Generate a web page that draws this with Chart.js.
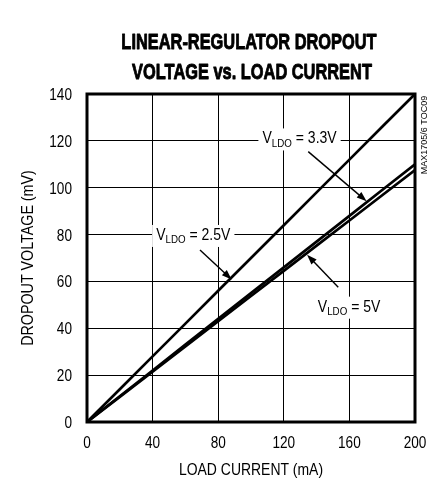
<!DOCTYPE html>
<html>
<head>
<meta charset="utf-8">
<script src="https://cdn.jsdelivr.net/npm/chart.js@4.4.1/dist/chart.umd.min.js"></script>
<style>
  html, body { margin: 0; padding: 0; background: #fff; }
  canvas { display: block; }
</style>
</head>
<body>
<canvas id="grafico" width="440" height="481"></canvas>
<script>
// --- 1. DATOS ---
const corrientes = [0, 20, 40, 60, 80, 100, 120, 140, 160, 180, 200];            // mA
const caida25 = [0, 14, 28, 42, 56, 70, 84, 98, 112, 126, 140];                   // mV, VLDO = 2.5V
const caida33 = [0, 11, 22, 33, 44, 55, 66, 77, 88, 99, 110];                     // mV, VLDO = 3.3V
const caida5  = [0, 10.7, 21.5, 32.3, 43, 53.8, 64.5, 75.3, 86, 96.8, 107.5];     // mV, VLDO = 5V
const ticksX = [0, 40, 80, 120, 160, 200];
const ticksY = [0, 20, 40, 60, 80, 100, 120, 140];
const titulo = ['LINEAR-REGULATOR DROPOUT', 'VOLTAGE vs. LOAD CURRENT'];
const tituloX = 'LOAD CURRENT (mA)';
const tituloY = 'DROPOUT VOLTAGE (mV)';

// no hay Helvetica Condensed: se usa Liberation Sans comprimida en horizontal
const familia = '"Liberation Sans", Arial, sans-serif';
const negro = '#000';

// etiquetas VLDO (posiciones en unidades del gráfico: mA / mV)
const etiquetas = [
    { valor: '3.3V', x: 129.6, y: 118.9, flecha: [134.9, 115.4, 170.5, 94.2] },
    { valor: '2.5V', x: 64.8,  y: 77.7,  flecha: [68.9, 73.4, 88.2, 60.8] },
    { valor: '5V',   x: 159.8, y: 47.1,  flecha: [153.2, 57.5, 134.2, 71.4] }
];

// --- 2. DIBUJO AUXILIAR ---

function textoComprimido(ctx, texto, x, y, fuente, alinear, factor, giro = 0, grosor = 0) {
    ctx.save();
    ctx.translate(x, y);
    if (giro) ctx.rotate(giro);
    ctx.scale(factor, 1);
    ctx.font = fuente;
    ctx.fillStyle = negro;
    ctx.textAlign = alinear;
    ctx.textBaseline = 'alphabetic';
    ctx.fillText(texto, 0, 0);
    if (grosor) {
        ctx.strokeStyle = negro;
        ctx.lineWidth = grosor;
        ctx.lineJoin = 'round';
        ctx.strokeText(texto, 0, 0);
    }
    ctx.restore();
}

function dibujarFlecha(ctx, x1, y1, x2, y2) {
    const ang = Math.atan2(y2 - y1, x2 - x1);
    const largo = 10, ancho = 3.6;
    ctx.strokeStyle = negro;
    ctx.lineWidth = 1.4;
    ctx.beginPath();
    ctx.moveTo(x1, y1);
    ctx.lineTo(x2 - Math.cos(ang) * largo * 0.8, y2 - Math.sin(ang) * largo * 0.8);
    ctx.stroke();
    ctx.fillStyle = negro;
    ctx.beginPath();
    ctx.moveTo(x2, y2);
    ctx.lineTo(x2 - Math.cos(ang) * largo - Math.sin(ang) * ancho, y2 - Math.sin(ang) * largo + Math.cos(ang) * ancho);
    ctx.lineTo(x2 - Math.cos(ang) * largo + Math.sin(ang) * ancho, y2 - Math.sin(ang) * largo - Math.cos(ang) * ancho);
    ctx.closePath();
    ctx.fill();
}

function dibujarEtiqueta(ctx, cx, base, valor) {
    const k = 0.85;
    const fuenteG = `16.5px ${familia}`;
    const fuenteS = `11.5px ${familia}`;
    const resto = ' = ' + valor;
    ctx.font = fuenteG;
    const wV = ctx.measureText('V').width * k;
    const wR = ctx.measureText(resto).width * k;
    ctx.font = fuenteS;
    const wS = ctx.measureText('LDO').width * k;
    const total = wV + wS + wR;
    let x = cx - total / 2;

    ctx.fillStyle = '#fff';
    ctx.fillRect(x - 4, base - 15, total + 8, 22);

    textoComprimido(ctx, 'V', x, base, fuenteG, 'left', k);
    x += wV;
    textoComprimido(ctx, 'LDO', x, base + 3.5, fuenteS, 'left', k);
    x += wS;
    textoComprimido(ctx, resto, x, base, fuenteG, 'left', k);
}

const pluginAnotaciones = {
    id: 'anotaciones',
    afterDatasetsDraw(chart) {
        const { ctx, scales: { x, y } } = chart;
        ctx.save();
        etiquetas.forEach(et => {
            dibujarEtiqueta(ctx, x.getPixelForValue(et.x), y.getPixelForValue(et.y), et.valor);
            const [a, b, c, d] = et.flecha;
            dibujarFlecha(ctx, x.getPixelForValue(a), y.getPixelForValue(b), x.getPixelForValue(c), y.getPixelForValue(d));
        });
        ctx.restore();
    },
    afterDraw(chart) {
        const { ctx, chartArea: ca, scales: { x, y } } = chart;
        ctx.save();
        // marco grueso
        ctx.strokeStyle = negro;
        ctx.lineWidth = 3;
        ctx.strokeRect(ca.left, ca.top, ca.right - ca.left, ca.bottom - ca.top);

        // valores de los ejes
        const fuenteTicks = `17px ${familia}`;
        ticksX.forEach(v => textoComprimido(ctx, String(v), x.getPixelForValue(v), 447.5, fuenteTicks, 'center', 0.8));
        ticksY.forEach(v => textoComprimido(ctx, String(v), ca.left - 15, y.getPixelForValue(v) + 6, fuenteTicks, 'right', 0.8));

        // títulos de ejes
        const fuenteEjes = `17px ${familia}`;
        textoComprimido(ctx, tituloX, (ca.left + ca.right) / 2, 475, fuenteEjes, 'center', 0.82);
        textoComprimido(ctx, tituloY, 33, (ca.top + ca.bottom) / 2, fuenteEjes, 'center', 0.84, -Math.PI / 2);

        // título (más grueso, tipo condensada negra)
        const fuenteTitulo = `bold 22px ${familia}`;
        textoComprimido(ctx, titulo[0], 249, 49, fuenteTitulo, 'center', 0.745, 0, 0.9);
        textoComprimido(ctx, titulo[1], 252, 79, fuenteTitulo, 'center', 0.745, 0, 0.9);

        // referencia lateral
        ctx.translate(425, 135);
        ctx.rotate(-Math.PI / 2);
        ctx.fillStyle = negro;
        ctx.font = `9px ${familia}`;
        ctx.textAlign = 'center';
        ctx.textBaseline = 'middle';
        ctx.fillText('MAX1705/6 TOC09', 0, 0);
        ctx.restore();
    }
};

// --- 3. GRÁFICO ---

const serie = (datos) => ({
    data: corrientes.map((c, i) => ({ x: c, y: datos[i] })),
    borderColor: negro,
    borderWidth: 2.7,
    pointRadius: 0,
    fill: false,
    tension: 0
});

new Chart(document.getElementById('grafico').getContext('2d'), {
    type: 'line',
    data: {
        datasets: [serie(caida25), serie(caida33), serie(caida5)]
    },
    options: {
        responsive: false,
        animation: false,
        layout: { padding: { top: 94, right: 25, left: 0, bottom: 0 } },
        plugins: {
            legend: { display: false },
            tooltip: { enabled: false },
            title: { display: false }
        },
        scales: {
            x: {
                type: 'linear',
                min: ticksX[0],
                max: ticksX[ticksX.length - 1],
                afterBuildTicks: s => { s.ticks = ticksX.map(v => ({ value: v })); },
                afterFit: s => { s.height = 59; },
                ticks: { display: false },
                grid: { color: negro, lineWidth: 1, drawTicks: false },
                border: { display: false }
            },
            y: {
                type: 'linear',
                min: ticksY[0],
                max: ticksY[ticksY.length - 1],
                afterBuildTicks: s => { s.ticks = ticksY.map(v => ({ value: v })); },
                afterFit: s => { s.width = 87; },
                ticks: { display: false },
                grid: { color: negro, lineWidth: 1, drawTicks: false },
                border: { display: false }
            }
        }
    },
    plugins: [pluginAnotaciones]
});
</script>
</body>
</html>
